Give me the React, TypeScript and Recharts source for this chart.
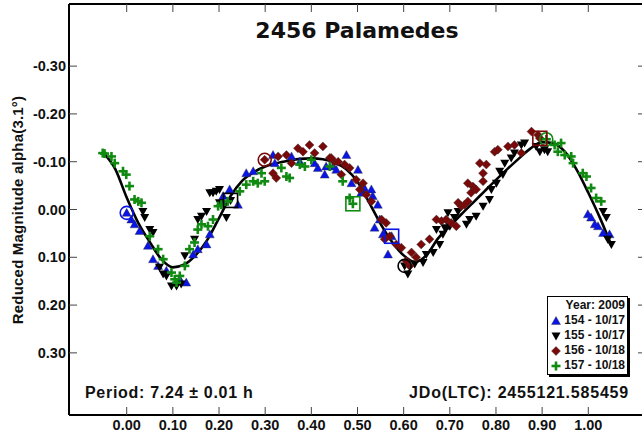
import { ComposedChart, Line, Scatter, XAxis, YAxis, Legend } from "recharts";

const X_TICKS = [0, 0.1, 0.2, 0.3, 0.4, 0.5, 0.6, 0.7, 0.8, 0.9, 1.0];
const Y_TICKS = [-0.3, -0.2, -0.1, 0, 0.1, 0.2, 0.3];

// fitted Fourier curve (phase, reduced mag)
const FIT = [
  [-0.05, -0.118], [-0.025, -0.085], [0.0, -0.025], [0.025, 0.028], [0.05, 0.068],
  [0.075, 0.104], [0.1, 0.121], [0.125, 0.115], [0.15, 0.095], [0.175, 0.063],
  [0.2, 0.018], [0.225, -0.028], [0.25, -0.06], [0.275, -0.078], [0.3, -0.09],
  [0.325, -0.097], [0.35, -0.102], [0.375, -0.106], [0.4, -0.107], [0.425, -0.105],
  [0.45, -0.098], [0.475, -0.085], [0.5, -0.058], [0.525, -0.015], [0.55, 0.03],
  [0.575, 0.068], [0.6, 0.096], [0.625, 0.11], [0.65, 0.095], [0.675, 0.06],
  [0.7, 0.035], [0.725, 0.01], [0.75, -0.014], [0.775, -0.038], [0.8, -0.062],
  [0.825, -0.085], [0.85, -0.107], [0.875, -0.128], [0.9, -0.141], [0.925, -0.138],
  [0.95, -0.12], [0.975, -0.083], [1.0, -0.035], [1.025, 0.017], [1.05, 0.075],
];

const S154 = [
  [0.0, 0.007], [0.01, 0.021], [0.017, 0.031], [0.028, 0.045], [0.046, 0.076], [0.057, 0.104],
  [0.068, 0.118], [0.086, 0.128], [0.115, 0.146], [0.129, 0.153], [0.144, 0.094], [0.154, 0.083],
  [0.173, 0.073], [0.18, 0.052], [0.205, -0.017], [0.209, -0.028], [0.223, -0.042], [0.241, -0.01],
  [0.259, -0.076], [0.274, -0.08], [0.317, -0.114], [0.321, -0.097], [0.357, -0.111], [0.375, -0.1],
  [0.407, -0.097], [0.414, -0.087], [0.429, -0.073], [0.432, -0.09], [0.447, -0.09], [0.454, -0.083],
  [0.476, -0.114], [0.487, -0.055], [0.501, -0.083], [0.508, -0.035], [0.515, -0.045], [0.53, -0.042],
  [0.533, -0.028], [0.544, -0.01], [0.537, 0.038], [0.548, 0.021], [0.555, 0.052], [0.566, 0.094],
  [0.574, 0.056], [0.999, 0.01], [1.006, 0.017], [1.014, 0.031], [1.021, 0.035], [1.032, 0.049],
  [1.046, 0.052],
];

const S155 = [
  [0.035, 0.004], [0.039, 0.017], [0.05, 0.042], [0.057, 0.048], [0.071, 0.121], [0.079, 0.135],
  [0.086, 0.139], [0.097, 0.16], [0.108, 0.16], [0.118, 0.156], [0.126, 0.097], [0.147, 0.062],
  [0.154, 0.021], [0.162, 0.014], [0.173, 0.004], [0.18, -0.035], [0.187, -0.035], [0.194, -0.038],
  [0.201, -0.042], [0.201, -0.014], [0.216, 0.017], [0.225, -0.019],
  [0.602, 0.118], [0.609, 0.135], [0.624, 0.114], [0.642, 0.111], [0.649, 0.094], [0.664, 0.09],
  [0.678, 0.073], [0.671, 0.042], [0.685, 0.052], [0.689, 0.038], [0.696, 0.007], [0.7, 0.035],
  [0.71, 0.017], [0.718, 0.004], [0.736, 0.031], [0.743, 0.021], [0.757, 0.014], [0.772, -0.007],
  [0.786, -0.021], [0.79, -0.042], [0.801, -0.055], [0.808, -0.08], [0.815, -0.073], [0.819, -0.097],
  [0.833, -0.108], [0.84, -0.118], [0.855, -0.135], [0.862, -0.139], [0.887, -0.132], [0.895, -0.121],
  [0.905, -0.125], [0.912, -0.121], [1.032, 0.004], [1.039, 0.017], [1.042, 0.062], [1.05, 0.073],
];

const S156 = [
  [0.299, -0.104], [0.317, -0.076], [0.324, -0.066], [0.328, -0.111], [0.346, -0.114], [0.357, -0.097],
  [0.371, -0.128], [0.382, -0.121], [0.396, -0.135], [0.407, -0.118], [0.425, -0.132], [0.44, -0.108],
  [0.45, -0.1], [0.443, -0.108], [0.458, -0.1], [0.465, -0.073], [0.472, -0.094], [0.483, -0.087],
  [0.497, -0.062], [0.505, -0.042], [0.512, -0.055], [0.519, -0.031], [0.53, -0.017], [0.552, 0.021],
  [0.559, 0.062], [0.562, 0.028], [0.57, 0.056], [0.584, 0.073], [0.595, 0.08], [0.606, 0.108],
  [0.613, 0.118], [0.617, 0.09], [0.627, 0.1], [0.638, 0.073], [0.656, 0.062], [0.671, 0.021],
  [0.682, 0.024], [0.692, 0.021], [0.703, 0.028], [0.714, 0.035], [0.718, -0.014], [0.725, -0.007],
  [0.732, -0.01], [0.739, -0.017], [0.739, -0.055], [0.746, -0.035], [0.75, -0.048], [0.757, -0.042],
  [0.765, -0.097], [0.772, -0.076], [0.779, -0.094], [0.772, -0.059], [0.797, -0.121], [0.804, -0.125],
  [0.826, -0.132], [0.84, -0.135], [0.855, -0.118], [0.877, -0.163], [0.891, -0.156], [0.895, -0.149],
];

const S157 = [
  [-0.052, -0.118], [-0.048, -0.117], [-0.033, -0.111], [-0.026, -0.097], [-0.008, -0.08], [-0.001, -0.073],
  [0.006, -0.049], [0.017, -0.021], [0.025, -0.017], [0.032, -0.014], [0.05, 0.056], [0.068, 0.083],
  [0.079, 0.104], [0.097, 0.132], [0.104, 0.146], [0.108, 0.153], [0.115, 0.139], [0.126, 0.118],
  [0.136, 0.083], [0.147, 0.069], [0.154, 0.042], [0.162, 0.031], [0.176, 0.035], [0.187, 0.021],
  [0.198, -0.007], [0.205, -0.01], [0.219, -0.017], [0.245, -0.038], [0.259, -0.052], [0.274, -0.059],
  [0.284, -0.055], [0.292, -0.076], [0.299, -0.059], [0.335, -0.087], [0.346, -0.069], [0.353, -0.066],
  [0.375, -0.094], [0.386, -0.09], [0.4, -0.104], [0.44, -0.09], [0.468, -0.059], [0.483, -0.024],
  [0.49, -0.012],
  [0.909, -0.147], [0.927, -0.135], [0.934, -0.121], [0.941, -0.139], [0.949, -0.114], [0.963, -0.111],
  [0.967, -0.097], [0.988, -0.076], [0.996, -0.069], [1.006, -0.045], [1.017, -0.024], [1.028, -0.017],
];

// first (circle) and last (square) point of each session
const STARTS = { s154: [0.0, 0.007], s155: [0.602, 0.118], s156: [0.299, -0.104], s157: [0.909, -0.147] };
const ENDS = { s154: [0.574, 0.056], s155: [0.225, -0.019], s156: [0.895, -0.149], s157: [0.49, -0.012] };

const SESSIONS = [
  { key: "s154", name: "154 - 10/17", color: "#0a14e6", shape: "up", pts: S154 },
  { key: "s155", name: "155 - 10/17", color: "#000000", shape: "down", pts: S155 },
  { key: "s156", name: "156 - 10/18", color: "#7a0a0a", shape: "diamond", pts: S156 },
  { key: "s157", name: "157 - 10/18", color: "#118a11", shape: "plus", pts: S157 },
];

const toRows = (pts: number[][]) => pts.map(([phase, mag]) => ({ phase, mag }));

function Mark({ x, y, shape, color, s = 1 }: any) {
  if (shape === "up")
    return <polygon points={`${x},${y - 4.5 * s} ${x + 4.5 * s},${y + 3.5 * s} ${x - 4.5 * s},${y + 3.5 * s}`} fill={color} stroke="#333" strokeWidth={0.4} />;
  if (shape === "down")
    return <polygon points={`${x - 4.5 * s},${y - 3.5 * s} ${x + 4.5 * s},${y - 3.5 * s} ${x},${y + 4.5 * s}`} fill={color} />;
  if (shape === "diamond")
    return <polygon points={`${x},${y - 4.5 * s} ${x + 4.5 * s},${y} ${x},${y + 4.5 * s} ${x - 4.5 * s},${y}`} fill={color} stroke="#333" strokeWidth={0.4} />;
  return (
    <g stroke={color} strokeWidth={2.6}>
      <line x1={x - 4.5 * s} y1={y} x2={x + 4.5 * s} y2={y} />
      <line x1={x} y1={y - 4.5 * s} x2={x} y2={y + 4.5 * s} />
    </g>
  );
}

const pointShape = (shape: string, color: string) => (p: any) =>
  p.cx == null ? <g /> : <Mark x={p.cx} y={p.cy} shape={shape} color={color} />;

const ringShape = (color: string, square: boolean) => (p: any) =>
  p.cx == null ? <g /> : square ? (
    <rect x={p.cx - 7} y={p.cy - 7} width={14} height={14} fill="none" stroke={color} strokeWidth={1.6} />
  ) : (
    <circle cx={p.cx} cy={p.cy} r={6.5} fill="none" stroke={color} strokeWidth={1.6} />
  );

const TICK_FONT = { fontFamily: "'Liberation Sans', Arial, sans-serif", fontWeight: "bold", fontSize: 14.5, fill: "#111" };
const fmt = (v: number) => (Math.abs(v) < 1e-9 ? "0.00" : v.toFixed(2));

function LegendBox() {
  return (
    <div
      style={{
        width: 75, border: "1px solid #000", boxShadow: "2px 2px 0 #000", background: "#fff",
        fontFamily: "'Liberation Sans', Arial, sans-serif", fontWeight: "bold", fontSize: 12,
        lineHeight: "15px", padding: "1px 2px 1px 2px", textAlign: "right", color: "#111",
      }}
    >
      <div>Year: 2009</div>
      {SESSIONS.map((s) => (
        <div key={s.key} style={{ display: "flex", justifyContent: "space-between", alignItems: "center" }}>
          <svg width={12} height={12}>
            <Mark x={6} y={6} shape={s.shape} color={s.color} />
          </svg>
          <span>{s.name}</span>
        </div>
      ))}
    </div>
  );
}

export default function App() {
  return (
    <div style={{ position: "absolute", left: 0, top: 0, width: 642, height: 443, overflow: "hidden", background: "#fff" }}>
      <ComposedChart width={660} height={443} margin={{ top: 0, right: 0, bottom: 0, left: 0 }}>
        <XAxis
          xAxisId="b" type="number" dataKey="phase" domain={[-0.125, 1.125]} ticks={X_TICKS}
          allowDataOverflow height={28} tickSize={-8} tickMargin={13} tickFormatter={fmt} tick={TICK_FONT}
          axisLine={{ stroke: "#000", strokeWidth: 2 }} tickLine={{ stroke: "#444" }}
        />
        <XAxis
          xAxisId="t" orientation="top" type="number" dataKey="phase" domain={[-0.125, 1.125]} ticks={X_TICKS}
          allowDataOverflow height={4} tickSize={-8} tickFormatter={() => ""}
          axisLine={{ stroke: "#000", strokeWidth: 2 }} tickLine={{ stroke: "#444" }}
        />
        <YAxis
          yAxisId="l" type="number" dataKey="mag" domain={[-0.43, 0.43]} reversed ticks={Y_TICKS}
          allowDataOverflow width={69} tickSize={-8} tickMargin={11} tickFormatter={fmt} tick={TICK_FONT}
          axisLine={{ stroke: "#000", strokeWidth: 2 }} tickLine={{ stroke: "#444" }}
        />
        <YAxis
          yAxisId="r" orientation="right" type="number" dataKey="mag" domain={[-0.43, 0.43]} reversed ticks={Y_TICKS}
          allowDataOverflow width={14} tickSize={-8} tickFormatter={() => ""}
          axisLine={{ stroke: "#000", strokeWidth: 2 }} tickLine={{ stroke: "#444" }}
        />
        {SESSIONS.map((s) => (
          <Scatter
            key={s.key} name={s.name} xAxisId="b" yAxisId="l" data={toRows(s.pts)}
            dataKey="mag" shape={pointShape(s.shape, s.color)} isAnimationActive={false}
          />
        ))}
        <Line
          xAxisId="b" yAxisId="l" data={toRows(FIT)} dataKey="mag" type="monotone"
          stroke="#000" strokeWidth={2.6} dot={false} isAnimationActive={false} legendType="none"
        />
        {SESSIONS.map((s) => (
          <Scatter
            key={s.key + "-start"} xAxisId="b" yAxisId="l" data={toRows([STARTS[s.key]])}
            dataKey="mag" shape={ringShape(s.color, false)} isAnimationActive={false} legendType="none"
          />
        ))}
        {SESSIONS.map((s) => (
          <Scatter
            key={s.key + "-end"} xAxisId="b" yAxisId="l" data={toRows([ENDS[s.key]])}
            dataKey="mag" shape={ringShape(s.color, true)} isAnimationActive={false} legendType="none"
          />
        ))}
        <Legend
          layout="vertical" align="center" verticalAlign="middle"
          wrapperStyle={{ position: "absolute", left: 547, top: 296, width: 84 }}
          content={() => <LegendBox />}
        />
      </ComposedChart>
      <svg width={642} height={443} style={{ position: "absolute", left: 0, top: 0, pointerEvents: "none" }}>
        <g fontFamily="'Liberation Sans', Arial, sans-serif" fontWeight="bold" fill="#111">
          <text x={357} y={38} textAnchor="middle" fontFamily="'DejaVu Sans', sans-serif" fontSize={22}>2456 Palamedes</text>
          <text transform="translate(23,210) rotate(-90)" textAnchor="middle" fontSize={15} letterSpacing={0.2}>Reduced Magnitude alpha(3.1°)</text>
          <text x={85} y={398} fontSize={16} letterSpacing={0.7}>Period: 7.24 ± 0.01 h</text>
          <text x={629} y={398} textAnchor="end" fontSize={16} letterSpacing={0.8}>JDo(LTC): 2455121.585459</text>
        </g>
      </svg>
    </div>
  );
}
